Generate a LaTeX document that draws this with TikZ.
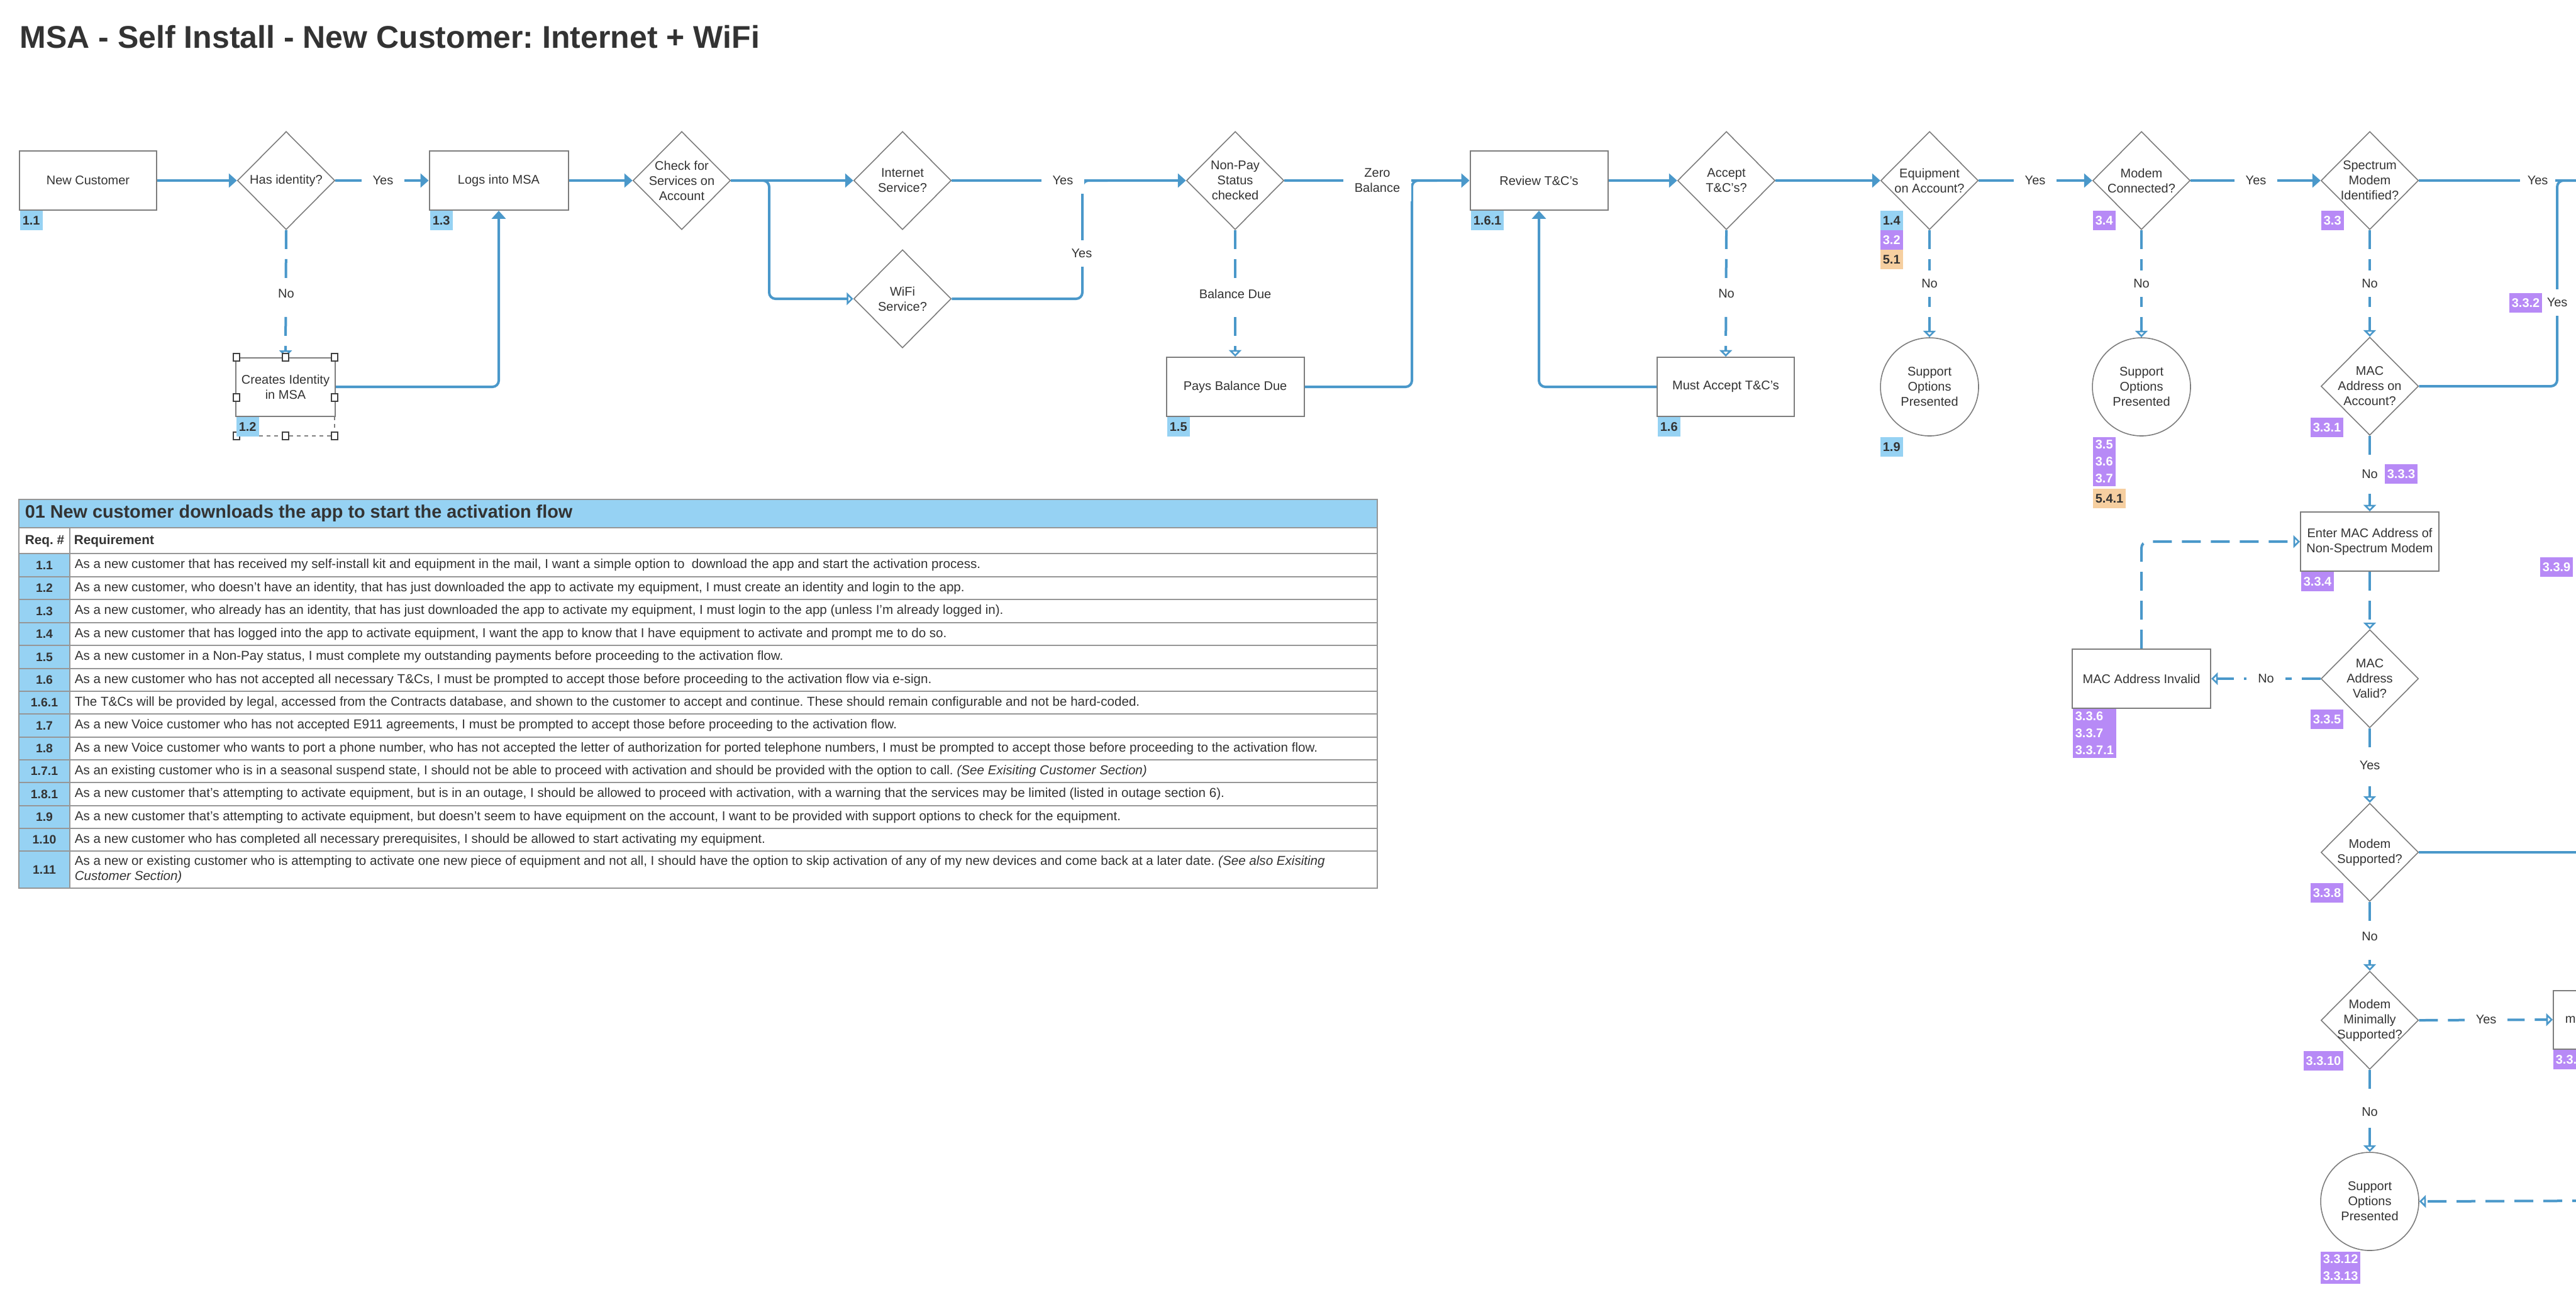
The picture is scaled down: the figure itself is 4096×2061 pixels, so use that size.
\documentclass[tikz,border=0pt]{standalone}
\usepackage{fontspec}
\setmainfont{Liberation Sans}
\usetikzlibrary{shapes.geometric,arrows.meta}
\definecolor{lineblue}{RGB}{74,152,202}
\definecolor{tagblue}{RGB}{150,210,243}
\definecolor{tagpurple}{RGB}{183,138,246}
\definecolor{tagorange}{RGB}{246,207,160}
\definecolor{bordergray}{RGB}{125,125,125}
\definecolor{gridgray}{RGB}{150,150,150}
\definecolor{txt}{RGB}{51,51,51}
\frenchspacing
\newcommand\pxu{*0.25pt}
\newcommand\nfont{\fontsize{5pt}{6pt}\selectfont}
\newcommand\tfont{\fontsize{5.15pt}{6pt}\selectfont}
\newcommand\tagfont{\bfseries\fontsize{5pt}{6.75pt}\selectfont}
\tikzset{
  procbox/.style={rectangle, draw=bordergray, line width=0.5pt, fill=white, align=center, font=\nfont, text=txt, inner sep=1pt},
  decis/.style={diamond, draw=bordergray, line width=0.4pt, fill=white, inner sep=0pt, minimum width=155\pxu, minimum height=156\pxu},
  dtext/.style={align=center, font=\nfont, text=txt, inner sep=0pt},
  termc/.style={circle, draw=bordergray, line width=0.4pt, fill=white, align=center, font=\nfont, text=txt, minimum size=156\pxu, inner sep=0pt},
  conn/.style={draw=lineblue, line width=1pt, rounded corners=2.5pt},
  fa/.style={-{Triangle[length=3.2pt,width=5.5pt]}},
  ha/.style={-{Triangle[open,length=2.6pt,width=5pt,line width=0.7pt]}},
  dsh/.style={dash pattern=on 7.5pt off 4pt},
  lbl/.style={fill=white, font=\nfont, text=txt, inner xsep=4.5pt, inner ysep=3.5pt, align=center},
  tagbase/.style={rectangle, anchor=north west, font=\tagfont, align=left, inner xsep=1pt, inner ysep=1.2pt, minimum height=31\pxu},
  tgb/.style={tagbase, fill=tagblue, text=txt},
  tgp/.style={tagbase, fill=tagpurple, text=white},
  tgo/.style={tagbase, fill=tagorange, text=txt},
  numtxt/.style={font=\bfseries\fontsize{4.85pt}{6pt}\selectfont, text=txt, inner sep=0pt},
  headtxt/.style={anchor=west, font=\bfseries\fontsize{5.2pt}{6pt}\selectfont, text=txt, inner sep=0pt},
  reqtxt/.style={anchor=west, font=\tfont, text=txt, inner sep=1pt, align=left},
}
\newcommand\reqrow[5]{%
  \fill[tagblue] (30,#2) rectangle (111,#3);
  \draw[gridgray, line width=0.4pt] (30,#2) rectangle (2190,#3) (111,#2) -- (111,#3);
  \node[numtxt] (#1n) at (70.5,{(#2+#3)/2}) {#4};
  \node[reqtxt] (#1t) at (114,{(#2+#3)/2}) {#5};
}
\begin{document}
\begin{tikzpicture}[x=0.25pt, y=-0.25pt]
\useasboundingbox (0,0) rectangle (4096,2061);
\clip (0,0) rectangle (4096,2061);
\fill[white] (0,0) rectangle (4096,2061);

% title
\node[anchor=base west, inner sep=0pt, font=\bfseries\fontsize{12.5pt}{15pt}\selectfont, text=txt] (title) at (31,76) {MSA - Self Install - New Customer: Internet + WiFi};

% ---------- shapes ----------
\node[procbox, minimum width=218\pxu, minimum height=94\pxu] (nc) at (140,287) {New Customer};
\node[decis] (hi) at (455,287) {}; \node[dtext] (hit) at (hi) {Has identity?};
\node[procbox, minimum width=221\pxu, minimum height=94\pxu] (logs) at (793,287) {Logs into MSA};
\node[decis] (chk) at (1084,287) {}; \node[dtext] (chkt) at (chk) {Check for\\Services on\\Account};
\node[decis] (inet) at (1435,287) {}; \node[dtext] (inett) at (inet) {Internet\\Service?};
\node[decis] (wifi) at (1435,475) {}; \node[dtext] (wifit) at (wifi) {WiFi\\Service?};
\node[decis] (np) at (1964,287) {}; \node[dtext] (npt) at (np) {Non-Pay\\Status\\checked};
\node[procbox, minimum width=219\pxu, minimum height=94\pxu] (rev) at (2447,287) {Review T\&C's};
\node[decis] (acc) at (2745,287) {}; \node[dtext] (acct) at (acc) {Accept\\T\&C's?};
\node[decis] (eq) at (3068,287) {}; \node[dtext] (eqt) at (eq) {Equipment\\on Account?};
\node[decis] (mc) at (3405,287) {}; \node[dtext] (mct) at (mc) {Modem\\Connected?};
\node[decis] (sp) at (3768,287) {}; \node[dtext] (spt) at (sp) {Spectrum\\Modem\\Identified?};

\node[procbox, minimum width=158\pxu, minimum height=93\pxu] (ci) at (454,615) {Creates Identity\\in MSA};
\node[procbox, minimum width=219\pxu, minimum height=94\pxu] (pays) at (1964,615) {Pays Balance Due};
\node[procbox, minimum width=218\pxu, minimum height=94\pxu] (must) at (2744,615) {Must Accept T\&C's};
\node[termc] (sup1) at (3068,615) {Support\\Options\\Presented};
\node[termc] (sup2) at (3405,615) {Support\\Options\\Presented};
\node[decis] (maca) at (3768,614) {}; \node[dtext] (macat) at (maca) {MAC\\Address on\\Account?};

\node[procbox, minimum width=220\pxu, minimum height=94\pxu] (enter) at (3768,861) {Enter MAC Address of\\Non-Spectrum Modem};
\node[decis] (macv) at (3768,1079) {}; \node[dtext] (macvt) at (macv) {MAC\\Address\\Valid?};
\node[procbox, minimum width=220\pxu, minimum height=94\pxu] (inv) at (3405,1079) {MAC Address Invalid};
\node[decis] (ms) at (3768,1355) {}; \node[dtext] (mst) at (ms) {Modem\\Supported?};
\node[decis] (mms) at (3768,1622) {}; \node[dtext] (mmst) at (mms) {Modem\\Minimally\\Supported?};
\node[procbox, minimum width=220\pxu, minimum height=93\pxu, anchor=west] (mbox) at (4059,1621) {};
\node[dtext, anchor=west] (mboxt) at (4078,1621) {m};
\node[termc] (sup3) at (3768,1910) {Support\\Options\\Presented};

% ---------- connectors ----------
\draw[conn,fa] (nc.east) -- (hi.west);
\draw[conn,fa] (hi.east) -- (logs.west);
\draw[conn,dsh,ha] (hi.south) -- (ci.north);
\draw[conn,fa] (ci.east) -| (logs.south);
\draw[conn,fa] (logs.east) -- (chk.west);
\draw[conn,fa] (chk.east) -- (inet.west);
\coordinate (br1) at (1223,287);
\draw[conn,ha] (chk.east) -- (br1) |- (wifi.west);
\draw[conn,fa] (inet.east) -- (np.west);
\coordinate (jn1) at (1721,287);
\coordinate (jn1e) at (1761,287);
\draw[conn] (wifi.east) -| (jn1) -- (jn1e);
\draw[conn,fa] (np.east) -- (rev.west);
\draw[conn,dsh,ha] (np.south) -- (pays.north);
\coordinate (jn2) at (2245,287);
\coordinate (jn2e) at (2285,287);
\draw[conn] (pays.east) -| (jn2) -- (jn2e);
\draw[conn,fa] (rev.east) -- (acc.west);
\draw[conn,dsh,ha] (acc.south) -- (must.north);
\draw[conn,fa] (must.west) -| (rev.south);
\draw[conn,fa] (acc.east) -- (eq.west);
\draw[conn,fa] (eq.east) -- (mc.west);
\draw[conn,dsh,ha] (eq.south) -- (sup1.north);
\draw[conn,fa] (mc.east) -- (sp.west);
\draw[conn,dsh,ha] (mc.south) -- (sup2.north);
\draw[conn,dsh,ha] (sp.south) -- (maca.north);
\coordinate (offr1) at (4120,287);
\draw[conn] (sp.east) -- (offr1);
\coordinate (jn3) at (4066,287);
\draw[conn] (maca.east) -| (jn3) -- (offr1);
\draw[conn,dsh,ha] (maca.south) -- (enter.north);
\draw[conn,dsh,ha] (enter.south) -- (macv.north);
\draw[conn,dsh,ha] (macv.west) -- (inv.east);
\draw[conn,dsh,ha] (inv.north) |- (enter.west);
\draw[conn,dsh,ha] (macv.south) -- (ms.north);
\coordinate (offr2) at (4120,1355);
\draw[conn] (ms.east) -- (offr2);
\draw[conn,dsh,ha] (ms.south) -- (mms.north);
\draw[conn,dsh,ha] (mms.east) -- (mbox.west);
\draw[conn,dsh,ha] (mms.south) -- (sup3.north);
\coordinate (offr3) at (4120,1909);
\draw[conn,dsh,ha] (offr3) -- (sup3.east);

% selection handles round "Creates Identity"
\draw[gray, line width=0.3pt, dash pattern=on 1.5pt off 1.5pt] (376,693) -- (532,693) (532,662) -- (532,693);
\foreach \hx/\hy in {376/568,454/568,532/568,376/632,532/632,376/693,454/693,532/693}
  \draw[black!75, fill=white, line width=0.35pt] (\hx-5,\hy-6) rectangle (\hx+5,\hy+6);

% ---------- labels ----------
\node[lbl] (l1) at (609,287) {Yes};
\node[lbl] (l2) at (455,467) {No};
\node[lbl] (l3) at (1690,287) {Yes};
\node[lbl] (l4) at (1720,403) {Yes};
\node[lbl] (l5) at (2190,287) {Zero\\Balance};
\node[lbl] (l6) at (1964,467) {Balance Due};
\node[lbl] (l7) at (2745,467) {No};
\node[lbl] (l8) at (3236,287) {Yes};
\node[lbl] (l9) at (3068,451) {No};
\node[lbl] (l10) at (3587,287) {Yes};
\node[lbl] (l11) at (3405,451) {No};
\node[lbl] (l12) at (3768,451) {No};
\node[lbl, inner xsep=3pt] (l13) at (4035,287) {Yes};
\node[lbl] (l14) at (4066,481) {Yes};
\node[lbl] (l15) at (3768,754) {No};
\node[lbl] (l16) at (3603,1079) {No};
\node[lbl] (l17) at (3768,1217) {Yes};
\node[lbl] (l18) at (3768,1489) {No};
\node[lbl] (l19) at (3953,1621) {Yes};
\node[lbl] (l20) at (3768,1768) {No};

% ---------- requirement tags ----------
\node[tgb] (tg11) at (31,334) {1.1};
\node[tgb] (tg12) at (375,662) {1.2};
\node[tgb] (tg13) at (683,334) {1.3};
\node[tgb] (tg15) at (1855,662) {1.5};
\node[tgb] (tg161) at (2338,334) {1.6.1};
\node[tgb] (tg16) at (2635,662) {1.6};
\node[tgb] (tg14) at (2989,334) {1.4};
\node[tgp] (tg32) at (2989,365) {3.2};
\node[tgo] (tg51) at (2989,396) {5.1};
\node[tgb] (tg19) at (2989,694) {1.9};
\node[tgp] (tg34) at (3327,334) {3.4};
\node[tgp] (tg35) at (3327,694) {3.5\\3.6\\3.7};
\node[tgo] (tg541) at (3327,776) {5.4.1};
\node[tgp] (tg33) at (3690,334) {3.3};
\node[tgp, anchor=north east] (tg331) at (3727,663) {3.3.1};
\node[tgp] (tg332) at (3989,465) {3.3.2};
\node[tgp] (tg333) at (3791,737) {3.3.3};
\node[tgp] (tg334) at (3658,908) {3.3.4};
\node[tgp] (tg339) at (4038,885) {3.3.9};
\node[tgp] (tg336) at (3295,1126) {3.3.6\\3.3.7\\3.3.7.1};
\node[tgp, anchor=north east] (tg335) at (3727,1127) {3.3.5};
\node[tgp, anchor=north east] (tg338) at (3727,1403) {3.3.8};
\node[tgp, anchor=north east] (tg3310) at (3727,1670) {3.3.10};
\node[tgp] (tg33x) at (4059,1668) {3.3.};
\node[tgp] (tg3312) at (3689,1989) {3.3.12\\3.3.13};

% ---------- requirements table ----------
\fill[tagblue] (30,794) rectangle (2190,839);
\draw[gridgray, line width=0.5pt] (30,794) rectangle (2190,839);
\node[anchor=west, inner sep=0pt, font=\bfseries\fontsize{7.2pt}{8pt}\selectfont, text=txt] (tabtitle) at (39,816.5) {01 New customer downloads the app to start the activation flow};
\draw[gridgray, line width=0.4pt] (30,839) rectangle (2190,880) (111,839) -- (111,880);
\node[headtxt] (hreq) at (39,860) {Req. \#};
\node[headtxt] (hrequ) at (117,860) {Requirement};
\reqrow{ra}{880}{917}{1.1}{As a new customer that has received my self-install kit and equipment in the mail, I want a simple option to \ download the app and start the activation process.}
\reqrow{rb}{917}{953}{1.2}{As a new customer, who doesn’t have an identity, that has just downloaded the app to activate my equipment, I must create an identity and login to the app.}
\reqrow{rc}{953}{990}{1.3}{As a new customer, who already has an identity, that has just downloaded the app to activate my equipment, I must login to the app (unless I’m already logged in).}
\reqrow{rd}{990}{1026}{1.4}{As a new customer that has logged into the app to activate equipment, I want the app to know that I have equipment to activate and prompt me to do so.}
\reqrow{re}{1026}{1063}{1.5}{As a new customer in a Non-Pay status, I must complete my outstanding payments before proceeding to the activation flow.}
\reqrow{rf}{1063}{1099}{1.6}{As a new customer who has not accepted all necessary T\&Cs, I must be prompted to accept those before proceeding to the activation flow via e-sign.}
\reqrow{rg}{1099}{1135}{1.6.1}{The T\&Cs will be provided by legal, accessed from the Contracts database, and shown to the customer to accept and continue. These should remain configurable and not be hard-coded.}
\reqrow{rh}{1135}{1172}{1.7}{As a new Voice customer who has not accepted E911 agreements, I must be prompted to accept those before proceeding to the activation flow.}
\reqrow{ri}{1172}{1208}{1.8}{As a new Voice customer who wants to port a phone number, who has not accepted the letter of authorization for ported telephone numbers, I must be prompted to accept those before proceeding to the activation flow.}
\reqrow{rj}{1208}{1244}{1.7.1}{As an existing customer who is in a seasonal suspend state, I should not be able to proceed with activation and should be provided with the option to call. \textit{(See Exisiting Customer Section)}}
\reqrow{rk}{1244}{1281}{1.8.1}{As a new customer that’s attempting to activate equipment, but is in an outage, I should be allowed to proceed with activation, with a warning that the services may be limited (listed in outage section 6).}
\reqrow{rl}{1281}{1317}{1.9}{As a new customer that’s attempting to activate equipment, but doesn’t seem to have equipment on the account, I want to be provided with support options to check for the equipment.}
\reqrow{rm}{1317}{1353}{1.10}{As a new customer who has completed all necessary prerequisites, I should be allowed to start activating my equipment.}
\reqrow{rn}{1353}{1412}{1.11}{As a new or existing customer who is attempting to activate one new piece of equipment and not all, I should have the option to skip activation of any of my new devices and come back at a later date. \textit{(See also Exisiting}\\\textit{Customer Section)}}
\end{tikzpicture}
\end{document}
